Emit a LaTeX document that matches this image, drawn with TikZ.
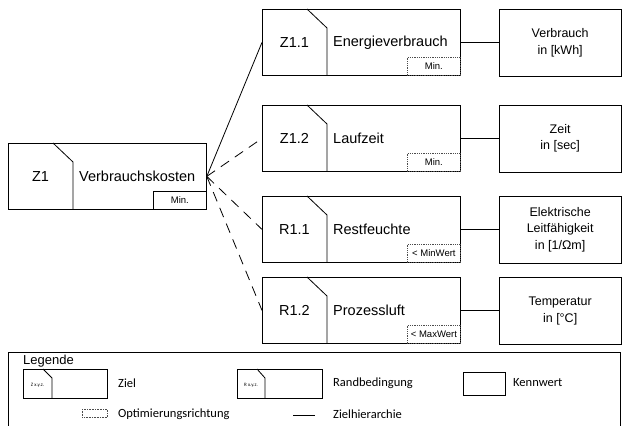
\documentclass[tikz,border=0pt]{standalone}
\usepackage{fontspec}
\setmainfont{Liberation Sans}
\newfontfamily\legfont{Carlito}
\begin{document}
\begin{tikzpicture}[x=1pt,y=-1pt,
  frame/.style={draw, line width=0.8pt},
  goalframe/.style={frame, rectangle, minimum width=198pt, minimum height=66pt, inner sep=0pt},
  divider/.style={line width=0.8pt},
  idlabel/.style={font=\fontsize{14.5}{17}\selectfont, inner sep=0pt},
  namelabel/.style={font=\fontsize{14.5}{17}\selectfont, inner sep=0pt, anchor=west},
  limsolid/.style={draw, line width=0.8pt, minimum width=53pt, minimum height=18pt, inner sep=0pt, font=\fontsize{9.5}{11}\selectfont},
  limdotted/.style={limsolid, densely dotted, draw=black!70},
  kennwert/.style={frame, rectangle, minimum width=121.5pt, minimum height=67pt, inner sep=0pt, align=center, anchor=north west, font=\fontsize{12.5}{16.5}\selectfont},
  hierarchy/.style={line width=0.8pt},
  optional/.style={line width=0.8pt, dash pattern=on 10pt off 7pt},
  legtext/.style={font=\legfont\fontsize{12.5}{15}\selectfont, inner sep=0pt, anchor=west},
  tinytext/.style={font=\legfont\fontsize{5}{6}\selectfont, inner sep=0pt}
]
\useasboundingbox (0,0) rectangle (622,426);

% goal / constraint box: name, x, y, id, title, limit, limit style
\newcommand{\zielbox}[7]{%
  \node[goalframe, anchor=north west] (#1) at (#2,#3) {};
  \draw[divider] ([xshift=45pt]#1.north west) -- ([xshift=65pt,yshift=-19pt]#1.north west) -- ([xshift=65pt]#1.south west);
  \node[idlabel] (#1-id) at ([xshift=32.5pt]#1.west) {#4};
  \node[namelabel] (#1-name) at ([xshift=71pt]#1.west) {#5};
  \node[#7, anchor=south east] (#1-lim) at (#1.south east) {#6};
}

\zielbox{z1}{8}{143}{Z1}{Verbrauchskosten}{Min.}{limsolid}
\zielbox{z11}{262}{9}{Z1.1}{Energieverbrauch}{Min.}{limdotted}
\zielbox{z12}{262}{105}{Z1.2}{Laufzeit}{Min.}{limdotted}
\zielbox{r11}{262}{196}{R1.1}{Restfeuchte}{< MinWert}{limdotted}
\zielbox{r12}{262}{277}{R1.2}{Prozessluft}{< MaxWert}{limdotted}

% characteristic values
\node[kennwert] (k1) at (499,9) {Verbrauch\\in [kWh]};
\node[kennwert] (k2) at (499,104.5) {Zeit\\in [sec]};
\node[kennwert] (k3) at (499,195.5) {Elektrische\\Leitfähigkeit\\in [1/Ωm]};
\node[kennwert] (k4) at (499,277) {Temperatur\\in [°C]};

% goal hierarchy
\draw[hierarchy] (z1.east) -- (z11.west);
\draw[optional] (z1.east) -- (z12.west);
\draw[optional] (z1.east) -- (r11.west);
\draw[optional] (z1.east) -- (r12.west);

\draw[hierarchy] (z11.east) -- (k1.west |- z11.east);
\draw[hierarchy] (z12.east) -- (k2.west |- z12.east);
\draw[hierarchy] (r11.east) -- (k3.west |- r11.east);
\draw[hierarchy] (r12.east) -- (k4.west |- r12.east);

% legend
\coordinate (legtl) at (8,352);
\coordinate (legtr) at (620.5,352);
\draw[line width=0.8pt] (legtl |- 0,427) -- (legtl) -- (legtr) -- (legtr |- 0,427);
\node[inner sep=0pt, anchor=west, font=\fontsize{13}{15}\selectfont] (legtitle) at (23,361) {Legende};

\node[frame, minimum width=84pt, minimum height=29pt, inner sep=0pt, anchor=north west] (lz) at (23,369) {};
\draw[divider] ([xshift=20pt]lz.north west) -- ([xshift=29pt,yshift=-9pt]lz.north west) -- ([xshift=29pt]lz.south west);
\node[tinytext] (lz-id) at ([xshift=14.5pt,yshift=-1pt]lz.west) {Z x.y.z.};
\node[legtext] (lz-text) at (118,383) {Ziel};

\node[frame, minimum width=85pt, minimum height=29pt, inner sep=0pt, anchor=north west] (lr) at (237,369) {};
\draw[divider] ([xshift=20pt]lr.north west) -- ([xshift=28pt,yshift=-9pt]lr.north west) -- ([xshift=28pt]lr.south west);
\node[tinytext] (lr-id) at ([xshift=14pt,yshift=-1pt]lr.west) {R x.y.z.};
\node[legtext] (lr-text) at (333,383) {Randbedingung};

\node[frame, minimum width=42pt, minimum height=23pt, inner sep=0pt, anchor=north west] (lk) at (463,372) {};
\node[legtext] (lk-text) at (513,383) {Kennwert};

\node[draw=black!70, densely dotted, line width=0.6pt, minimum width=25pt, minimum height=8pt, inner sep=0pt, anchor=north west] (lo) at (82,409) {};
\node[legtext] (lo-text) at (118,414) {Optimierungsrichtung};

\coordinate (lh-a) at (293,415);
\coordinate (lh-b) at (315,415);
\draw[hierarchy] (lh-a) -- (lh-b);
\node[legtext] (lh-text) at (333,414) {Zielhierarchie};
\end{tikzpicture}
\end{document}
